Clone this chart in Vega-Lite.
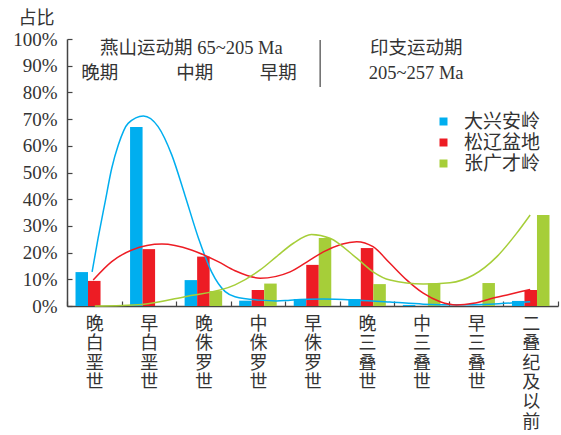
{
  "$schema": "https://vega.github.io/schema/vega-lite/v6.json",
  "autosize": {"type": "none"},
  "width": 491,
  "height": 267,
  "padding": {"left": 67, "top": 39, "right": 3, "bottom": 129},
  "background": "white",
  "config": {
    "view": {"stroke": null},
    "font": "Liberation Serif, Noto Sans CJK SC",
    "text": {"font": "Liberation Serif, Noto Sans CJK SC"},
    "axisY": {
      "values": [0, 10, 20, 30, 40, 50, 60, 70, 80, 90, 100],
      "labelExpr": "datum.value + '%'",
      "labelOverlap": false,
      "labelFontSize": 19,
      "labelColor": "#333333",
      "labelPadding": 15,
      "tickSize": -5,
      "tickColor": "#444444",
      "tickWidth": 1.2,
      "domainColor": "#444444",
      "domainWidth": 1.5,
      "grid": false,
      "titleAngle": 0,
      "titleX": -31,
      "titleY": -21,
      "titleAlign": "center",
      "titleBaseline": "middle",
      "titleFontSize": 18,
      "titleFontWeight": "normal",
      "titleColor": "#333333",
      "titleFont": "Noto Sans CJK SC"
    }
  },
  "datasets": {
    "bars": [
      {"period": "晚白垩世", "region": "大兴安岭", "v": 12.7},
      {"period": "晚白垩世", "region": "松辽盆地", "v": 9.4},
      {"period": "晚白垩世", "region": "张广才岭", "v": 0},
      {"period": "早白垩世", "region": "大兴安岭", "v": 67.0},
      {"period": "早白垩世", "region": "松辽盆地", "v": 21.3},
      {"period": "早白垩世", "region": "张广才岭", "v": 0},
      {"period": "晚侏罗世", "region": "大兴安岭", "v": 9.7},
      {"period": "晚侏罗世", "region": "松辽盆地", "v": 18.5},
      {"period": "晚侏罗世", "region": "张广才岭", "v": 5.6},
      {"period": "中侏罗世", "region": "大兴安岭", "v": 2.0},
      {"period": "中侏罗世", "region": "松辽盆地", "v": 6.0},
      {"period": "中侏罗世", "region": "张广才岭", "v": 8.4},
      {"period": "早侏罗世", "region": "大兴安岭", "v": 2.6},
      {"period": "早侏罗世", "region": "松辽盆地", "v": 15.4},
      {"period": "早侏罗世", "region": "张广才岭", "v": 25.5},
      {"period": "晚三叠世", "region": "大兴安岭", "v": 2.6},
      {"period": "晚三叠世", "region": "松辽盆地", "v": 21.7},
      {"period": "晚三叠世", "region": "张广才岭", "v": 8.2},
      {"period": "中三叠世", "region": "大兴安岭", "v": 0.4},
      {"period": "中三叠世", "region": "松辽盆地", "v": 0},
      {"period": "中三叠世", "region": "张广才岭", "v": 8.5},
      {"period": "早三叠世", "region": "大兴安岭", "v": 0},
      {"period": "早三叠世", "region": "松辽盆地", "v": 0},
      {"period": "早三叠世", "region": "张广才岭", "v": 8.6},
      {"period": "二叠纪及以前", "region": "大兴安岭", "v": 1.9},
      {"period": "二叠纪及以前", "region": "松辽盆地", "v": 6.0},
      {"period": "二叠纪及以前", "region": "张广才岭", "v": 34.1}
    ],
    "curves": [
      {"region": "大兴安岭", "u": 0.46, "v": 12.8},
      {"region": "大兴安岭", "u": 0.57, "v": 25.4},
      {"region": "大兴安岭", "u": 0.70, "v": 39.1},
      {"region": "大兴安岭", "u": 0.82, "v": 51.6},
      {"region": "大兴安岭", "u": 0.94, "v": 60.3},
      {"region": "大兴安岭", "u": 1.12, "v": 68.4},
      {"region": "大兴安岭", "u": 1.40, "v": 71.2},
      {"region": "大兴安岭", "u": 1.67, "v": 67.2},
      {"region": "大兴安岭", "u": 1.92, "v": 56.6},
      {"region": "大兴安岭", "u": 2.16, "v": 41.6},
      {"region": "大兴安岭", "u": 2.41, "v": 25.4},
      {"region": "大兴安岭", "u": 2.65, "v": 12.8},
      {"region": "大兴安岭", "u": 2.90, "v": 5.4},
      {"region": "大兴安岭", "u": 3.08, "v": 3.5},
      {"region": "大兴安岭", "u": 3.54, "v": 2.2},
      {"region": "大兴安岭", "u": 3.84, "v": 1.9},
      {"region": "大兴安岭", "u": 4.09, "v": 2.2},
      {"region": "大兴安岭", "u": 4.70, "v": 2.6},
      {"region": "大兴安岭", "u": 5.31, "v": 2.2},
      {"region": "大兴安岭", "u": 5.92, "v": 1.5},
      {"region": "大兴安岭", "u": 6.53, "v": 0.7},
      {"region": "大兴安岭", "u": 7.14, "v": 0.5},
      {"region": "大兴安岭", "u": 7.75, "v": 0.7},
      {"region": "大兴安岭", "u": 8.49, "v": 1.6},
      {"region": "松辽盆地", "u": 0.48, "v": 9.7},
      {"region": "松辽盆地", "u": 0.82, "v": 16.6},
      {"region": "松辽盆地", "u": 1.19, "v": 21.0},
      {"region": "松辽盆地", "u": 1.74, "v": 23.2},
      {"region": "松辽盆地", "u": 2.28, "v": 21.0},
      {"region": "松辽盆地", "u": 2.77, "v": 16.6},
      {"region": "松辽盆地", "u": 3.08, "v": 13.2},
      {"region": "松辽盆地", "u": 3.54, "v": 10.4},
      {"region": "松辽盆地", "u": 4.09, "v": 12.8},
      {"region": "松辽盆地", "u": 4.45, "v": 17.2},
      {"region": "松辽盆地", "u": 4.70, "v": 20.3},
      {"region": "松辽盆地", "u": 5.31, "v": 24.1},
      {"region": "松辽盆地", "u": 5.61, "v": 22.2},
      {"region": "松辽盆地", "u": 5.92, "v": 16.0},
      {"region": "松辽盆地", "u": 6.23, "v": 9.7},
      {"region": "松辽盆地", "u": 6.53, "v": 4.8},
      {"region": "松辽盆地", "u": 6.84, "v": 1.6},
      {"region": "松辽盆地", "u": 7.14, "v": 0.4},
      {"region": "松辽盆地", "u": 7.45, "v": 1.0},
      {"region": "松辽盆地", "u": 7.75, "v": 2.6},
      {"region": "松辽盆地", "u": 8.12, "v": 4.4},
      {"region": "松辽盆地", "u": 8.49, "v": 6.2},
      {"region": "张广才岭", "u": 0.51, "v": 0},
      {"region": "张广才岭", "u": 1.37, "v": 0.6},
      {"region": "张广才岭", "u": 2.16, "v": 3.5},
      {"region": "张广才岭", "u": 3.08, "v": 7.9},
      {"region": "张广才岭", "u": 3.54, "v": 13.5},
      {"region": "张广才岭", "u": 3.84, "v": 18.5},
      {"region": "张广才岭", "u": 4.15, "v": 23.5},
      {"region": "张广才岭", "u": 4.48, "v": 26.8},
      {"region": "张广才岭", "u": 4.82, "v": 25.4},
      {"region": "张广才岭", "u": 5.31, "v": 17.9},
      {"region": "张广才岭", "u": 5.61, "v": 12.8},
      {"region": "张广才岭", "u": 5.92, "v": 9.7},
      {"region": "张广才岭", "u": 6.53, "v": 8.2},
      {"region": "张广才岭", "u": 7.02, "v": 8.7},
      {"region": "张广才岭", "u": 7.45, "v": 11.6},
      {"region": "张广才岭", "u": 7.88, "v": 18.5},
      {"region": "张广才岭", "u": 8.24, "v": 27.2},
      {"region": "张广才岭", "u": 8.49, "v": 34.1}
    ],
    "notes": [
      {"u": 2.28, "v": 96.5, "label": "燕山运动期 65~205 Ma"},
      {"u": 0.60, "v": 87.3, "label": "晚期"},
      {"u": 2.34, "v": 87.3, "label": "中期"},
      {"u": 3.87, "v": 87.3, "label": "早期"},
      {"u": 6.40, "v": 96.5, "label": "印支运动期"},
      {"u": 6.40, "v": 87.3, "label": "205~257 Ma"}
    ],
    "divider": [
      {"u": 4.64, "v": 99.6, "v2": 82}
    ]
  },
  "encoding": {
    "y": {
      "field": "v",
      "type": "quantitative",
      "scale": {"domain": [0, 100], "nice": false},
      "axis": {"title": "占比", "values": [0, 10, 20, 30, 40, 50, 60, 70, 80, 90, 100], "labelOverlap": false}
    }
  },
  "layer": [
    {
      "data": {"name": "bars"},
      "mark": {"type": "bar"},
      "encoding": {
        "x": {
          "field": "period",
          "type": "nominal",
          "sort": ["晚白垩世", "早白垩世", "晚侏罗世", "中侏罗世", "早侏罗世", "晚三叠世", "中三叠世", "早三叠世", "二叠纪及以前"],
          "scale": {"paddingInner": 0, "paddingOuter": 0},
          "axis": {
            "title": null,
            "labelAngle": 0,
            "labelExpr": "split(datum.label, '')",
            "labelBaseline": "top",
            "labelAlign": "center",
            "labelLineHeight": 19.6,
            "labelFontSize": 18,
            "labelColor": "#333333",
            "labelFont": "Noto Sans CJK SC",
            "labelPadding": 14,
            "labelLimit": 0,
            "labelOverlap": false,
            "tickBand": "extent",
            "tickSize": -5,
            "tickColor": "#444444",
            "tickWidth": 1.2,
            "domainColor": "#444444",
            "domainWidth": 1.5
          }
        },
        "xOffset": {
          "field": "region",
          "type": "nominal",
          "sort": ["大兴安岭", "松辽盆地", "张广才岭"],
          "scale": {"paddingInner": 0, "paddingOuter": 0.68}
        },
        "color": {
          "field": "region",
          "type": "nominal",
          "scale": {
            "domain": ["大兴安岭", "松辽盆地", "张广才岭"],
            "range": ["#00AEEF", "#ED1C24", "#A6CE39"]
          },
          "legend": {
            "title": null,
            "orient": "none",
            "legendX": 367,
            "legendY": 73,
            "symbolType": "square",
            "symbolSize": 64,
            "symbolStrokeWidth": 0,
            "labelFontSize": 19,
            "labelFont": "Noto Sans CJK SC",
            "labelColor": "#333333",
            "labelOffset": 11,
            "rowPadding": 1
          }
        }
      }
    },
    {
      "data": {"name": "curves"},
      "mark": {"type": "line", "interpolate": "monotone", "strokeWidth": 1.5},
      "encoding": {
        "x": {"field": "u", "type": "quantitative", "scale": {"domain": [0, 9], "nice": false, "zero": false}, "axis": null},
        "color": {"field": "region", "type": "nominal", "legend": null},
        "detail": {"field": "region"}
      }
    },
    {
      "data": {"name": "notes"},
      "mark": {"type": "text", "fontSize": 18.5, "color": "#333333", "align": "center", "baseline": "middle", "font": "Liberation Serif, Noto Sans CJK SC"},
      "encoding": {
        "x": {"field": "u", "type": "quantitative", "scale": {"domain": [0, 9], "nice": false, "zero": false}, "axis": null},
        "text": {"field": "label"}
      }
    },
    {
      "data": {"name": "divider"},
      "mark": {"type": "rule", "color": "#444444", "strokeWidth": 1.2},
      "encoding": {
        "x": {"field": "u", "type": "quantitative", "scale": {"domain": [0, 9], "nice": false, "zero": false}, "axis": null},
        "y2": {"field": "v2"}
      }
    }
  ],
  "resolve": {"scale": {"x": "independent"}, "axis": {"x": "independent"}}
}
